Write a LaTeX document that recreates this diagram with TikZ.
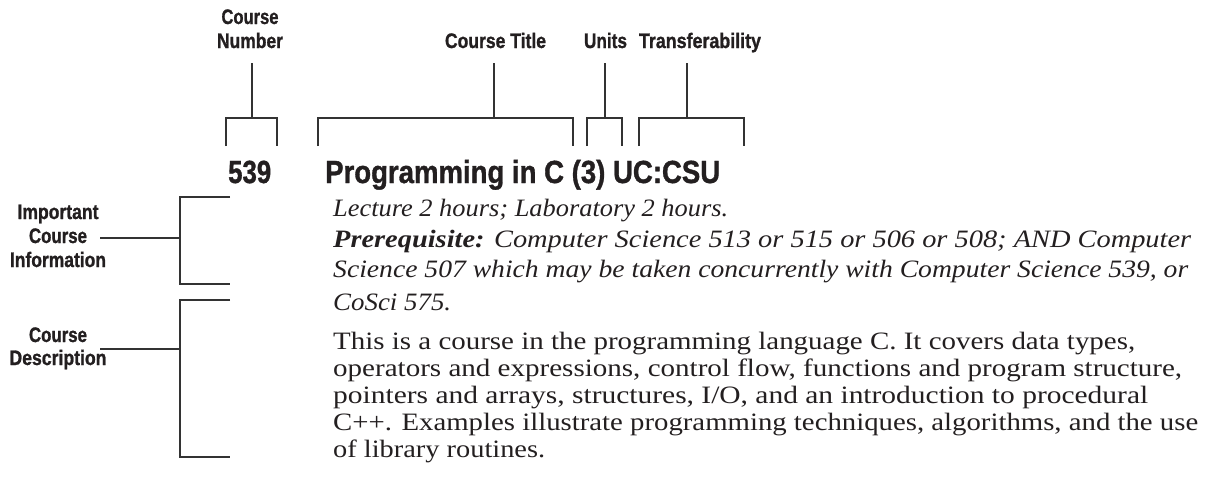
\documentclass[tikz,border=0pt]{standalone}
\usepackage{fontspec}
\usepackage{graphicx}
\setmainfont{Liberation Serif}
\newfontfamily\labfont{Liberation Sans}[BoldFeatures={FakeBold=1.2}]
\definecolor{ink}{HTML}{231F20}
\definecolor{rule}{HTML}{333333}
\newsavebox\fitbox
\newcommand\fitto[2]{\sbox\fitbox{#2}\pgfmathsetmacro\fitratio{#1/\the\wd\fitbox}\scalebox{\fitratio}[1]{\usebox\fitbox}}
\tikzset{
  lbl/.style={inner sep=0pt, anchor=base, text=ink, font=\labfont\bfseries\fontsize{21}{21}\selectfont},
  head/.style={inner sep=0pt, anchor=base west, text=ink, font=\labfont\bfseries\fontsize{32}{32}\selectfont},
  body/.style={inner sep=0pt, anchor=base west, text=ink, font=\fontsize{25}{28}\selectfont},
  ital/.style={body, font=\fontsize{25}{28}\selectfont\itshape},
  conn/.style={draw=rule, line width=1.3pt}
}
\begin{document}
\begin{tikzpicture}[x=1pt,y=-1pt]
\useasboundingbox (0,0) rectangle (1213,491);
% top labels
\node[lbl] (cnA) at (250,24) {\fitto{57}{Course}};
\node[lbl] (cnB) at (250,48) {\fitto{66}{Number}};
\node[lbl] (ctl) at (495.5,48) {\fitto{101}{Course Title}};
\node[lbl] (unt) at (605.5,48) {\fitto{43}{Units}};
\node[lbl] (trf) at (700,48) {\fitto{122}{Transferability}};
% stems
\coordinate (s1t) at (252,63);  \coordinate (s1b) at (252,118);
\coordinate (s2t) at (494,63);  \coordinate (s2b) at (494,118);
\coordinate (s3t) at (605,63);  \coordinate (s3b) at (605,118);
\coordinate (s4t) at (687,63);  \coordinate (s4b) at (687,118);
\draw[conn] (s1t) -- (s1b);
\draw[conn] (s2t) -- (s2b);
\draw[conn] (s3t) -- (s3b);
\draw[conn] (s4t) -- (s4b);
% top brackets
\draw[conn] (226,146) -- (226,118) -- (277,118) -- (277,146);
\draw[conn] (318,146) -- (318,118) -- (573,118) -- (573,146);
\draw[conn] (587,146) -- (587,118) -- (622,118) -- (622,146);
\draw[conn] (639,146) -- (639,118) -- (744,118) -- (744,146);
% left labels
\node[lbl] (ic1) at (58,219) {\fitto{81}{Important}};
\node[lbl] (ic2) at (58,243) {\fitto{58}{Course}};
\node[lbl] (ic3) at (58,267) {\fitto{96}{Information}};
\node[lbl] (cd1) at (58,342) {\fitto{58}{Course}};
\node[lbl] (cd2) at (58,365) {\fitto{97}{Description}};
\coordinate (ict) at (100,238); \coordinate (icb) at (180,238);
\coordinate (cdt) at (100,349); \coordinate (cdb) at (180,349);
\draw[conn] (ict) -- (icb);
\draw[conn] (cdt) -- (cdb);
% left brackets
\draw[conn] (230,197) -- (180,197) -- (180,284) -- (230,284);
\draw[conn] (230,300) -- (180,300) -- (180,457) -- (230,457);
% heading
\node[head] (num) at (228,183) {\fitto{43}{539}};
\node[head] (ttl) at (325,183) {\fitto{395}{Programming in C (3) UC:CSU}};
% italic info
\node[ital] (l1) at (333,216) {\fitto{395}{Lecture 2 hours; Laboratory 2 hours.}};
\node[ital] (l2) at (333,247) {\fitto{858}{{\bfseries Prerequisite:} Computer Science 513 or 515 or 506 or 508; AND Computer}};
\node[ital] (l3) at (333,277) {\fitto{855}{Science 507 which may be taken concurrently with Computer Science 539, or}};
\node[ital] (l4) at (333,310) {\fitto{118}{CoSci 575.}};
% description
\node[body] (d1) at (333,349) {\fitto{802}{This is a course in the programming language C. It covers data types,}};
\node[body] (d2) at (333,376) {\fitto{849}{operators and expressions, control flow, functions and program structure,}};
\node[body] (d3) at (333,403) {\fitto{815}{pointers and arrays, structures, I/O, and an introduction to procedural}};
\node[body] (d4) at (333,430) {\fitto{865}{C++. Examples illustrate programming techniques, algorithms, and the use}};
\node[body] (d5) at (333,457) {\fitto{212}{of library routines.}};
\end{tikzpicture}
\end{document}
